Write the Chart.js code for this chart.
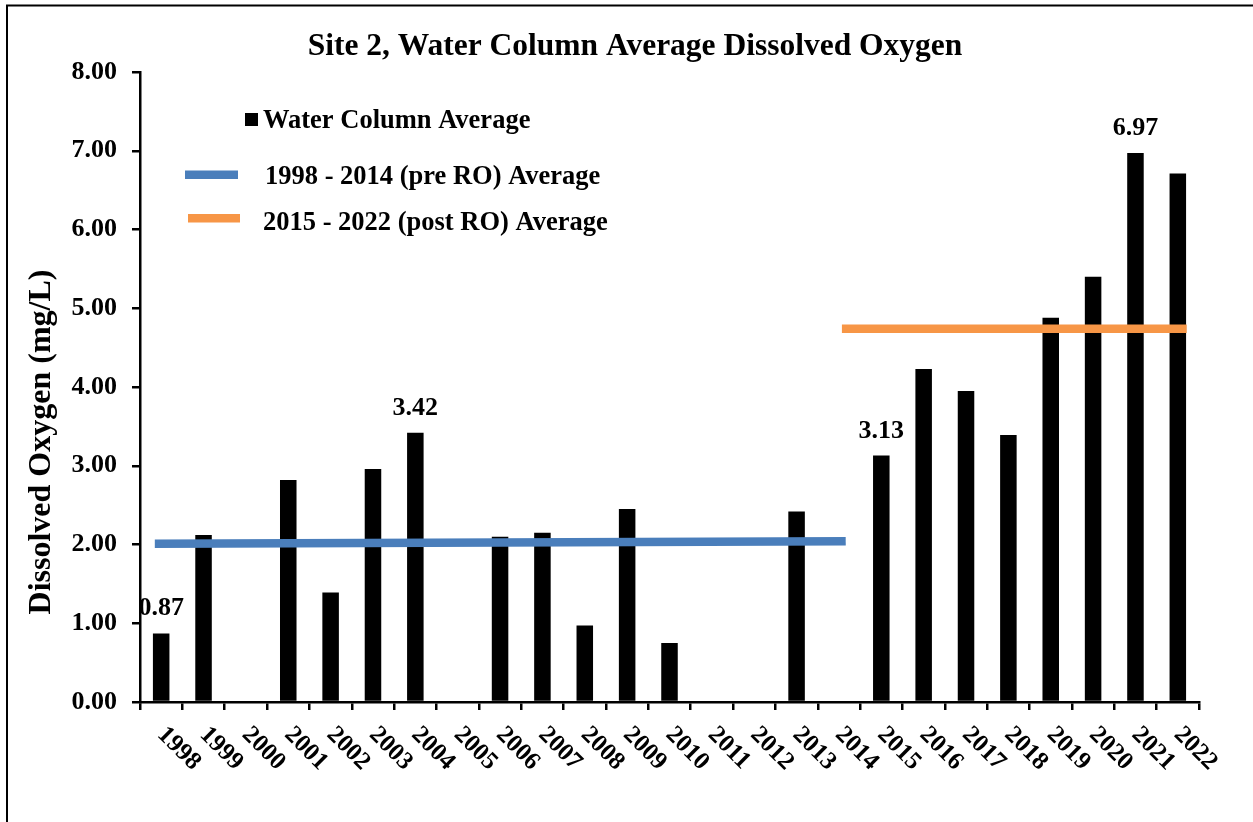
<!DOCTYPE html>
<html>
<head>
<meta charset="utf-8">
<script src="https://cdn.jsdelivr.net/npm/chart.js@4/dist/chart.umd.min.js"></script>
<style>
html,body{margin:0;padding:0;background:#ffffff;}
#wrap{width:1253px;height:822px;position:relative;}
</style>
</head>
<body>
<div id="wrap"><canvas id="c" width="1253" height="822"></canvas></div>
<script>
// ---- data ----
const years = ['1998','1999','2000','2001','2002','2003','2004','2005','2006','2007','2008','2009','2010','2011','2012','2013','2014','2015','2016','2017','2018','2019','2020','2021','2022'];
const waterColumnAverage = [0.87,2.12,null,2.82,1.39,2.96,3.42,null,2.10,2.15,0.97,2.45,0.75,null,null,2.42,null,3.13,4.23,3.95,3.39,4.88,5.40,6.97,6.71];
// average lines: x is the year-slot position (0 = 1998 ... 24 = 2022)
const preROAverage = [{x:-0.15, y:2.01},{x:16.16, y:2.04}];
const postROAverage = [{x:16.07, y:4.74},{x:24.21, y:4.74}];
const labelledYears = ['1998','2004','2015','2021'];
const yMin = 0, yMax = 8, yStep = 1;

const chartTitle = 'Site 2, Water Column Average Dissolved Oxygen';
const yTitle = 'Dissolved Oxygen (mg/L)';
const seriesNames = ['Water Column Average','1998 - 2014 (pre RO) Average','2015 - 2022 (post RO) Average'];

const SERIF = '"Liberation Serif","Times New Roman",serif';
const BLUE = '#4a7ebb';
const ORANGE = '#f79646';

const extras = {
  id: 'extras',
  afterDraw(chart) {
    const ctx = chart.ctx;
    const x = chart.scales.x, y = chart.scales.y;
    ctx.save();
    // outer frame (top and left visible)
    ctx.strokeStyle = '#000';
    ctx.lineWidth = 2;
    ctx.beginPath();
    ctx.moveTo(7, 830); ctx.lineTo(7, 5.5); ctx.lineTo(1260, 5.5);
    ctx.stroke();

    // title
    ctx.fillStyle = '#000';
    ctx.font = 'bold 31.5px ' + SERIF;
    ctx.textAlign = 'center';
    ctx.textBaseline = 'alphabetic';
    ctx.fillText(chartTitle, 635, 55);

    // y axis title
    ctx.save();
    ctx.translate(50, 442);
    ctx.rotate(-Math.PI/2);
    ctx.font = 'bold 32px ' + SERIF;
    ctx.textAlign = 'center';
    ctx.textBaseline = 'alphabetic';
    ctx.fillText(yTitle, 0, 0);
    ctx.restore();

    // x tick labels, rotated clockwise
    ctx.font = 'bold 25px ' + SERIF;
    ctx.textAlign = 'left';
    ctx.textBaseline = 'middle';
    years.forEach((yr, i) => {
      const px = x.getPixelForValue(i);
      ctx.save();
      ctx.translate(px, y.bottom + 29);
      ctx.rotate(Math.PI/4);
      ctx.fillText(yr, 0, 0);
      ctx.restore();
    });

    // data labels
    ctx.font = 'bold 26px ' + SERIF;
    ctx.textAlign = 'center';
    ctx.textBaseline = 'alphabetic';
    labelledYears.forEach(yr => {
      const i = years.indexOf(yr);
      const v = waterColumnAverage[i];
      ctx.fillText(v.toFixed(2), x.getPixelForValue(i), y.getPixelForValue(v) - 18);
    });

    // legend
    ctx.font = 'bold 26.5px ' + SERIF;
    ctx.textAlign = 'left';
    ctx.textBaseline = 'alphabetic';
    ctx.fillStyle = '#000';
    ctx.fillRect(245, 113, 13, 13);
    ctx.fillText(seriesNames[0], 263, 128);
    ctx.fillStyle = BLUE;
    ctx.fillRect(185, 170.5, 53, 8.5);
    ctx.fillStyle = '#000';
    ctx.fillText(seriesNames[1], 265, 183.5);
    ctx.fillStyle = ORANGE;
    ctx.fillRect(188, 214, 52, 8.5);
    ctx.fillStyle = '#000';
    ctx.fillText(seriesNames[2], 263, 230);
    ctx.restore();
  }
};

new Chart(document.getElementById('c'), {
  data: {
    labels: years,
    datasets: [
      {
        type: 'bar',
        label: seriesNames[0],
        data: waterColumnAverage,
        xAxisID: 'x',
        yAxisID: 'y',
        grouped: false,
        backgroundColor: '#000000',
        borderWidth: 0,
        barPercentage: 0.39,
        categoryPercentage: 1.0,
        order: 2
      },
      {
        type: 'line',
        label: seriesNames[1],
        data: preROAverage,
        xAxisID: 'xLine',
        yAxisID: 'y',
        borderColor: BLUE,
        borderWidth: 8.5,
        borderCapStyle: 'butt',
        pointRadius: 0,
        fill: false,
        order: 1
      },
      {
        type: 'line',
        label: seriesNames[2],
        data: postROAverage,
        xAxisID: 'xLine',
        yAxisID: 'y',
        borderColor: ORANGE,
        borderWidth: 8.5,
        borderCapStyle: 'butt',
        pointRadius: 0,
        fill: false,
        order: 0
      }
    ]
  },
  options: {
    responsive: false,
    animation: false,
    devicePixelRatio: 1,
    layout: { padding: { left: 0, top: 72, right: 54, bottom: 0 } },
    plugins: {
      legend: { display: false },
      title: { display: false },
      tooltip: { enabled: false }
    },
    scales: {
      x: {
        type: 'category',
        offset: true,
        ticks: { display: false },
        grid: { offset: true, drawOnChartArea: false, drawTicks: true, tickLength: 8, color: '#000', lineWidth: 2.5 },
        border: { display: true, color: '#000', width: 2.5 },
        afterFit(scale) { scale.height = 120; }
      },
      xLine: {
        type: 'linear',
        position: 'bottom',
        display: false,
        min: -0.5,
        max: years.length - 0.5
      },
      y: {
        min: yMin, max: yMax,
        ticks: {
          stepSize: yStep,
          color: '#000',
          padding: 15,
          font: { family: SERIF, size: 26, weight: 'bold' },
          callback: v => Number(v).toFixed(2)
        },
        grid: { drawOnChartArea: false, drawTicks: true, tickLength: 8, color: '#000', lineWidth: 2.5 },
        border: { display: true, color: '#000', width: 2.5 },
        afterFit(scale) { scale.width = 140; }
      }
    }
  },
  plugins: [extras]
});
</script>
</body>
</html>
